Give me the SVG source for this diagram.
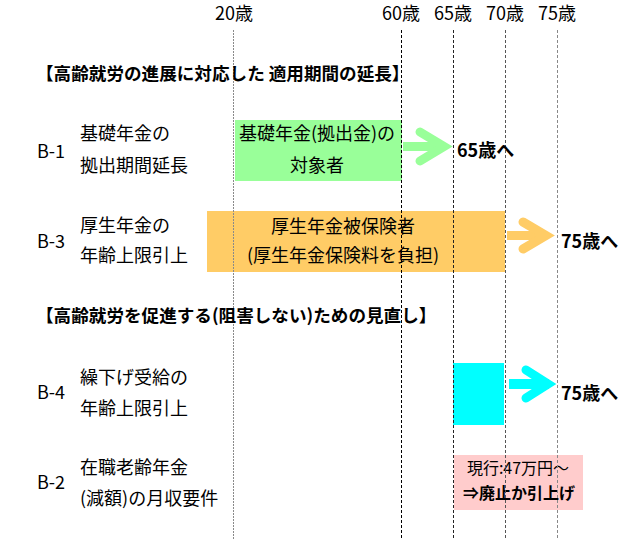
<svg xmlns="http://www.w3.org/2000/svg" width="640" height="556" viewBox="0 0 640 556">
<style>
text{font-family:"Noto Sans CJK JP","Noto Sans",sans-serif;fill:#000;}
.yr{font-size:18px;text-anchor:middle;}
.hd{font-size:17.6px;font-weight:bold;}
.lb{font-size:18px;}
.bx{font-size:18px;text-anchor:middle;}
.to{font-size:18px;font-weight:bold;}
.pk{font-size:16px;text-anchor:middle;}
.vl{stroke-width:1;fill:none;}
.chev{fill:none;stroke-width:9;stroke-linecap:round;stroke-linejoin:miter;stroke-miterlimit:10;}
</style>
<rect width="640" height="556" fill="#fff"/>
<g id="axis">
<text class="yr" x="234" y="20">20歳</text>
<text class="yr" x="401" y="20">60歳</text>
<text class="yr" x="453" y="20">65歳</text>
<text class="yr" x="505" y="20">70歳</text>
<text class="yr" x="557" y="20">75歳</text>
</g>
<g id="bars">
<g id="b1-bar"><rect x="235" y="120" width="167" height="61" fill="#99FF99"/>
<text class="bx" x="317" y="140">基礎年金(拠出金)の</text>
<text class="bx" x="317" y="172">対象者</text></g>
<g id="b3-bar"><rect x="207" y="211" width="298" height="61" fill="#FFCC66"/>
<text class="bx" x="343" y="233">厚生年金被保険者</text>
<text class="bx" x="343" y="262">(厚生年金保険料を負担)</text></g>
<g id="b4-bar"><rect x="453" y="363" width="51" height="62" fill="#00FFFF"/></g>
<g id="b2-box"><rect x="454" y="455" width="129" height="55" fill="#FFCCCC"/>
<text class="pk" x="518" y="474">現行:47万円～</text>
<text class="pk" x="519" y="499" font-weight="bold">⇒廃止か引上げ</text></g>
</g>
<g id="gridlines">
<line class="vl" x1="233.5" y1="30" x2="233.5" y2="540" stroke="#8a8a8a" stroke-dasharray="2,1"/>
<line class="vl" x1="401.5" y1="30" x2="401.5" y2="540" stroke="#000" stroke-dasharray="3,2"/>
<line class="vl" x1="453.5" y1="30" x2="453.5" y2="540" stroke="#222" stroke-dasharray="3,2"/>
<line class="vl" x1="505.5" y1="30" x2="505.5" y2="540" stroke="#555" stroke-dasharray="3,2"/>
<line class="vl" x1="557.5" y1="30" x2="557.5" y2="540" stroke="#888" stroke-dasharray="3,2"/>
</g>
<g id="connectors">
<g id="arrow-b1"><rect x="403" y="142" width="42" height="9" fill="#99FF99"/>
<path class="chev" d="M420 132 L444 146.5 L420 161" stroke="#99FF99"/></g>
<g id="arrow-b3"><rect x="507" y="231" width="40" height="9" fill="#FFCC66"/>
<path class="chev" d="M523 222 L546 235.5 L523 249" stroke="#FFCC66"/></g>
<g id="arrow-b4"><rect x="509" y="379" width="40" height="10" fill="#00FFFF"/>
<path class="chev" d="M526 370 L548 384 L526 398" stroke="#00FFFF" stroke-width="10"/></g>
</g>
<g id="headings">
<text class="hd" x="36" y="80">【高齢就労の進展に対応した 適用期間の延長】</text>
<text class="hd" x="36" y="322">【高齢就労を促進する(阻害しない)ための見直し】</text>
</g>
<g id="rows">
<g id="b1"><text class="lb" x="37" y="158">B-1</text>
<text class="lb" x="80" y="140">基礎年金の</text>
<text class="lb" x="80" y="172">拠出期間延長</text>
<text class="to" x="457" y="157">65歳へ</text></g>
<g id="b3"><text class="lb" x="37" y="248">B-3</text>
<text class="lb" x="80" y="232">厚生年金の</text>
<text class="lb" x="80" y="262">年齢上限引上</text>
<text class="to" x="561" y="248">75歳へ</text></g>
<g id="b4"><text class="lb" x="37" y="399">B-4</text>
<text class="lb" x="80" y="384">繰下げ受給の</text>
<text class="lb" x="80" y="415">年齢上限引上</text>
<text class="to" x="561" y="400">75歳へ</text></g>
<g id="b2"><text class="lb" x="37" y="489">B-2</text>
<text class="lb" x="80" y="474">在職老齢年金</text>
<text class="lb" x="80" y="505">(減額)の月収要件</text></g>
</g>
</svg>
